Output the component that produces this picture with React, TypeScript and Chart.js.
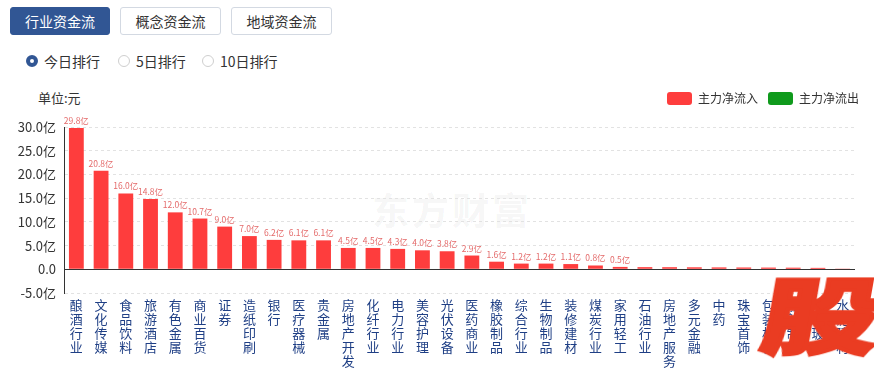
import React, { useEffect, useRef } from 'react';
import { Chart, registerables } from 'chart.js';

Chart.register(...registerables);

const FONT = '"Noto Sans CJK SC", "Microsoft YaHei", sans-serif';

const categories = [
  '酿酒行业', '文化传媒', '食品饮料', '旅游酒店', '有色金属', '商业百货', '证券', '造纸印刷',
  '银行', '医疗器械', '贵金属', '房地产开发', '化纤行业', '电力行业', '美容护理', '光伏设备',
  '医药商业', '橡胶制品', '综合行业', '生物制品', '装修建材', '煤炭行业', '家用轻工', '石油行业',
  '房地产服务', '多元金融', '中药', '珠宝首饰', '包装材料', '船舶制造', '玻璃玻纤', '水泥建材',
];

const inflow = [
  29.8, 20.8, 16.0, 14.8, 12.0, 10.7, 9.0, 7.0,
  6.2, 6.1, 6.1, 4.5, 4.5, 4.3, 4.0, 3.8,
  2.9, 1.6, 1.2, 1.2, 1.1, 0.8, 0.5, 0.45,
  0.44, 0.42, 0.4, 0.38, 0.36, 0.34, 0.3, 0.05,
];

const outflow: (number | null)[] = [];

const seriesNames = ['主力净流入', '主力净流出'];
const seriesColors = ['#fe3d3d', '#0f9a1c'];

const yMin = -5;
const yMax = 30;
const yStep = 5;
const labelThreshold = 0.5;

const tabs = ['行业资金流', '概念资金流', '地域资金流'];
const radios = ['今日排行', '5日排行', '10日排行'];

const valueLabels = {
  id: 'valueLabels',
  afterDatasetsDraw(chart: any) {
    const meta = chart.getDatasetMeta(0);
    const ctx = chart.ctx;
    ctx.save();
    ctx.font = `8.5px ${FONT}`;
    ctx.fillStyle = '#e46b6b';
    ctx.textAlign = 'center';
    ctx.textBaseline = 'bottom';
    meta.data.forEach((bar: any, i: number) => {
      const v = inflow[i];
      if (v >= labelThreshold) ctx.fillText(v.toFixed(1) + '亿', bar.x, bar.y - 3);
    });
    ctx.restore();
  },
};

function ChartCanvas() {
  const ref = useRef<HTMLCanvasElement>(null);
  useEffect(() => {
    if (!ref.current) return;
    const chart = new Chart(ref.current, {
      type: 'bar',
      data: {
        labels: categories,
        datasets: [
          {
            label: seriesNames[0],
            data: inflow,
            backgroundColor: seriesColors[0],
            borderWidth: 0,
            barPercentage: 0.6,
            categoryPercentage: 1,
            xAxisID: 'x',
            yAxisID: 'y',
          },
          {
            label: seriesNames[1],
            data: outflow,
            backgroundColor: seriesColors[1],
            borderWidth: 0,
            barPercentage: 0.6,
            categoryPercentage: 1,
            xAxisID: 'x',
            yAxisID: 'y',
          },
        ],
      },
      options: {
        animation: false,
        responsive: false,
        devicePixelRatio: 1,
        layout: { padding: { left: 0, right: 5, top: 0, bottom: 0 } },
        plugins: {
          tooltip: { enabled: false },
          title: { display: false },
          legend: {
            display: true,
            position: 'top',
            align: 'end',
            labels: {
              boxWidth: 25,
              boxHeight: 13,
              padding: 10,
              color: '#333',
              useBorderRadius: true,
              borderRadius: 3,
              font: { size: 12, family: FONT },
            },
          },
        },
        scales: {
          x: {
            type: 'category',
            stacked: true,
            position: 'bottom',
            grid: { display: false, drawTicks: false },
            border: { display: false },
            ticks: {
              autoSkip: false,
              maxRotation: 0,
              minRotation: 0,
              padding: 5,
              color: '#1f3f85',
              font: { size: 13, family: FONT, lineHeight: '14px' },
              callback: (_v: any, i: number) => categories[i].split(''),
            },
            afterFit: (a: any) => { a.height = 78; },
          },
          xTop: {
            type: 'linear',
            axis: 'x',
            position: 'top',
            display: true,
            grid: { display: false, drawTicks: false },
            border: { display: false },
            ticks: { display: false },
            afterFit: (a: any) => { a.height = 12; },
          },
          y: {
            type: 'linear',
            stacked: true,
            position: 'left',
            min: yMin,
            max: yMax,
            ticks: {
              stepSize: yStep,
              padding: 8,
              color: '#333',
              font: { size: 13, family: FONT },
              callback: (v: any) => (Number(v) === 0 ? '0.0' : Number(v).toFixed(1) + '亿'),
            },
            grid: {
              drawTicks: false,
              lineWidth: 1,
              color: (c: any) => (c.tick && c.tick.value === 0 ? '#333' : '#e2e2e2'),
            },
            border: {
              display: true,
              color: '#333',
              dash: (c: any) => (c.tick && c.tick.value === 0 ? [] : [3, 3]),
            },
            afterFit: (a: any) => { a.width = 64; },
          },
          yR: {
            type: 'linear',
            axis: 'y',
            position: 'right',
            display: true,
            grid: { display: false, drawTicks: false },
            border: { display: false },
            ticks: { display: false },
            afterFit: (a: any) => { a.width = 14; },
          },
        },
      } as any,
      plugins: [valueLabels],
    });
    return () => chart.destroy();
  }, []);
  return (
    <canvas
      ref={ref}
      width={874}
      height={289}
      style={{ position: 'absolute', left: 0, top: 82, width: 874, height: 289 }}
    />
  );
}

export default function App() {
  return (
    <div
      style={{
        position: 'absolute',
        left: 0,
        top: 0,
        width: 874,
        height: 371,
        overflow: 'hidden',
        background: '#fff',
        fontFamily: FONT,
        color: '#333',
      }}
    >
      {tabs.map((t, i) => (
        <div
          key={t}
          style={{
            position: 'absolute',
            left: [10, 120, 231][i],
            top: 7,
            width: i === 0 ? 100 : 101,
            height: 28,
            boxSizing: 'border-box',
            border: i === 0 ? '1px solid #315694' : '1px solid #d3d9e2',
            borderRadius: 3,
            background: i === 0 ? '#315694' : '#fff',
            color: i === 0 ? '#fff' : '#333',
            fontSize: 14,
            lineHeight: '26px',
            textAlign: 'center',
          }}
        >
          {t}
        </div>
      ))}
      {radios.map((r, i) => (
        <React.Fragment key={r}>
          <div
            style={{
              position: 'absolute',
              left: [26, 118, 202][i],
              top: 55,
              width: 12,
              height: 12,
              boxSizing: 'border-box',
              borderRadius: '50%',
              border: i === 0 ? '4px solid #315694' : '1px solid #cfcfcf',
              background: '#fff',
            }}
          />
          <div
            style={{
              position: 'absolute',
              left: [44, 136, 220][i],
              top: 51,
              fontSize: 14,
              lineHeight: '20px',
              color: '#333',
            }}
          >
            {r}
          </div>
        </React.Fragment>
      ))}
      <div
        style={{
          position: 'absolute',
          left: 38,
          top: 89,
          fontSize: 13,
          lineHeight: '18px',
          color: '#333',
        }}
      >
        单位:元
      </div>
      <div
        style={{
          position: 'absolute',
          left: 372,
          top: 188,
          fontSize: 37,
          fontWeight: 700,
          lineHeight: '42px',
          letterSpacing: 3,
          color: 'rgba(0,0,0,0.055)',
        }}
      >
        东方财富
      </div>
      <ChartCanvas />
      <div
        style={{
          position: 'absolute',
          left: 757,
          top: 259,
          fontSize: 94,
          fontWeight: 900,
          lineHeight: '94px',
          color: '#ea3c22',
          WebkitTextStroke: '4px #ea3c22',
          transform: 'skewX(-10deg) scale(1.25, 0.88)',
          transformOrigin: 'bottom left',
          pointerEvents: 'none',
        }}
      >
        股
      </div>
    </div>
  );
}
